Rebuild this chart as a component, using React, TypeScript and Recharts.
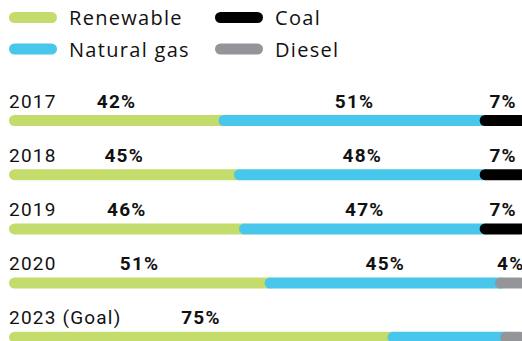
import React from "react";
import { BarChart, Bar, XAxis, YAxis, LabelList, Legend } from "recharts";

const years = ["2017", "2018", "2019", "2020", "2023 (Goal)"];
const renewable = [42, 45, 46, 51, 75];
const naturalGas = [51, 48, 47, 45, 22];
const coal = [7, 7, 7, 0, 0];
const diesel = [0, 0, 0, 4, 3];
const renewableLabels = ["42%", "45%", "46%", "51%", "75%"];
const gasLabels = ["51%", "48%", "47%", "45%", ""];
const coalLabels = ["7%", "7%", "7%", "", ""];
const dieselLabels = ["", "", "", "4%", ""];

const seriesNames = ["Renewable", "Natural gas", "Coal", "Diesel"];
const seriesColors = ["#c3dc6c", "#48c6eb", "#000000", "#939598"];

const data = years.map((y, i) => ({
  year: y,
  renewable: renewable[i],
  gas: naturalGas[i],
  coal: coal[i],
  diesel: diesel[i],
  renewableLabel: renewableLabels[i],
  gasLabel: gasLabels[i],
  coalLabel: coalLabels[i],
  dieselLabel: dieselLabels[i],
}));

const makeSeg = (first: boolean) => (props: any) => {
  const { x, y, width, height, fill } = props;
  if (!width || width <= 0) return <g />;
  const r = height / 2;
  const x0 = first ? x : x - r;
  const x1 = x + width + r;
  return <rect x={x0} y={y} width={x1 - x0} height={height} rx={r} ry={r} fill={fill} />;
};

const labelFont = { fontFamily: "Roboto, sans-serif", fontSize: 19, letterSpacing: 1.2 };

const valueLabel = (props: any) => {
  const { x, y, width, value } = props;
  if (!value) return <g />;
  return (
    <text x={x + width / 2} y={y - 7.5} textAnchor="middle" fill="#111" fontWeight={700} style={labelFont}>
      {value}
    </text>
  );
};

const yearLabel = (props: any) => {
  const { x, y, value } = props;
  return (
    <text x={x} y={y - 7.5} textAnchor="start" fill="#111" fontWeight={400} style={labelFont}>
      {value}
    </text>
  );
};

const legendContent = () => {
  const cols = [9, 215];
  const rows = [17.5, 49];
  return (
    <svg width={522} height={70}>
      {seriesNames.map((n, i) => {
        const cx = cols[Math.floor(i / 2)];
        const cy = rows[i % 2];
        return (
          <g key={n}>
            <rect x={cx} y={cy - 5.5} width={48} height={11} rx={5.5} ry={5.5} fill={seriesColors[i]} />
            <text
              x={cx + 60}
              y={cy + 7.5}
              fill="#111"
              style={{ fontFamily: "'Open Sans', sans-serif", fontSize: 20, letterSpacing: 1.3 }}
            >
              {n}
            </text>
          </g>
        );
      })}
    </svg>
  );
};

export default function App() {
  return (
    <div style={{ position: "absolute", left: 0, top: 0, width: 522, height: 341, overflow: "hidden", background: "#fff" }}>
      <BarChart
        width={540}
        height={365}
        data={data}
        layout="vertical"
        margin={{ top: 93, right: 19, bottom: 1, left: 9 }}
        barSize={11}
      >
        <XAxis type="number" domain={[0, 100]} hide />
        <YAxis type="category" dataKey="year" hide />
        <Legend
          layout="vertical"
          align="center"
          verticalAlign="middle"
          content={legendContent}
          wrapperStyle={{ top: 0, left: 0, width: 522, height: 70 }}
        />
        <Bar dataKey="renewable" name={seriesNames[0]} stackId="a" fill={seriesColors[0]} shape={makeSeg(true)} isAnimationActive={false}>
          <LabelList dataKey="year" content={yearLabel} />
          <LabelList dataKey="renewableLabel" content={valueLabel} />
        </Bar>
        <Bar dataKey="gas" name={seriesNames[1]} stackId="a" fill={seriesColors[1]} shape={makeSeg(false)} isAnimationActive={false}>
          <LabelList dataKey="gasLabel" content={valueLabel} />
        </Bar>
        <Bar dataKey="coal" name={seriesNames[2]} stackId="a" fill={seriesColors[2]} shape={makeSeg(false)} isAnimationActive={false}>
          <LabelList dataKey="coalLabel" content={valueLabel} />
        </Bar>
        <Bar dataKey="diesel" name={seriesNames[3]} stackId="a" fill={seriesColors[3]} shape={makeSeg(false)} isAnimationActive={false}>
          <LabelList dataKey="dieselLabel" content={valueLabel} />
        </Bar>
      </BarChart>
    </div>
  );
}
